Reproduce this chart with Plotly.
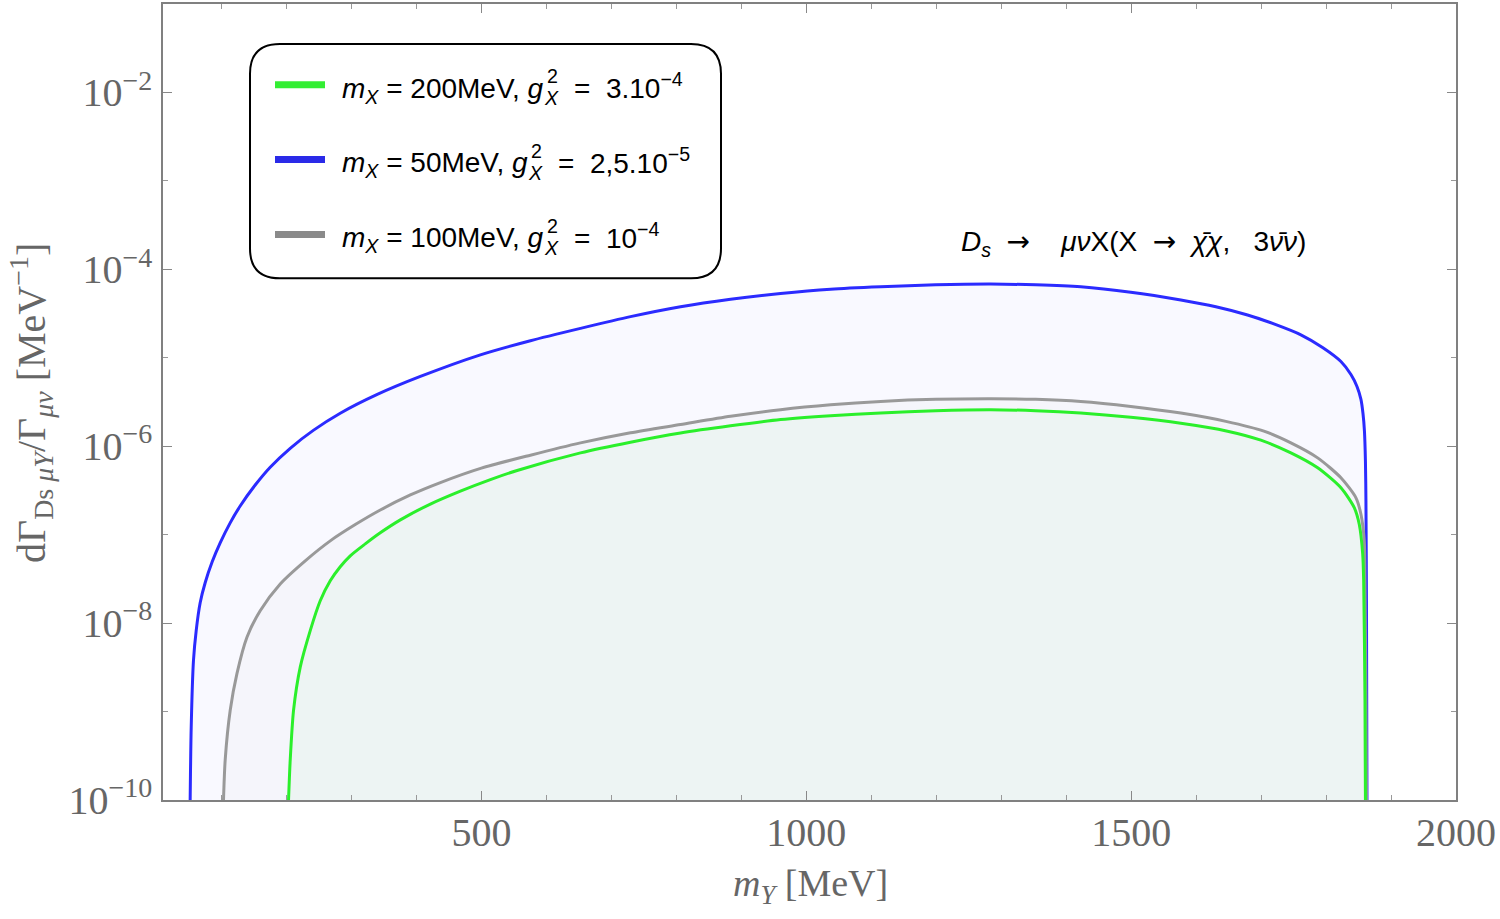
import plotly.graph_objects as go

# ---------------- data ----------------
x_blue = [51.8, 53.4, 56.9, 61.1, 67.2, 74.9, 85.7, 98.0, 113.4, 128.8, 151.9, 175.0, 205.8,
          241.3, 282.8, 339.8, 406.1, 498.5, 575.5, 652.5, 729.5, 806.5, 883.5, 960.5,
          1037.5, 1114.5, 1199.2, 1283.9, 1353.2, 1422.5, 1499.5, 1576.5, 1630.4, 1679.2,
          1722.8, 1761.3, 1795.2, 1822.9, 1838.3, 1847.6, 1853.7, 1856.8, 1859.1, 1860.6,
          1861.4, 1862.2, 1863.0]
y_blue = [1e-10, 6.6e-10, 3.78e-9, 8.23e-9, 1.70e-8, 2.86e-8, 4.93e-8, 8.07e-8, 1.36e-7,
          2.11e-7, 3.64e-7, 5.79e-7, 9.48e-7, 1.51e-6, 2.36e-6, 3.85e-6, 6.15e-6, 1.08e-5,
          1.56e-5, 2.15e-5, 2.92e-5, 3.78e-5, 4.59e-5, 5.33e-5, 5.96e-5, 6.35e-5, 6.68e-5,
          6.81e-5, 6.68e-5, 6.35e-5, 5.51e-5, 4.50e-5, 3.78e-5, 3.05e-5, 2.37e-5, 1.82e-5,
          1.30e-5, 9.08e-6, 6.47e-6, 4.74e-6, 3.39e-6, 2.36e-6, 1.48e-6, 6.78e-7, 2.40e-7,
          1.79e-8, 1e-10]

x_gray = [103.1, 105.7, 113.4, 123.8, 139.2, 159.6, 190.4, 228.9, 267.4, 305.9, 344.4, 390.7,
          436.9, 500.0, 575.5, 652.5, 729.5, 806.5, 883.5, 960.5, 1037.5, 1114.5, 1199.2,
          1283.9, 1353.2, 1422.5, 1499.5, 1576.5, 1645.8, 1704.4, 1745.9, 1787.1, 1822.9,
          1846.0, 1853.7, 1858.8, 1859.9, 1861.4, 1862.2]
y_gray = [1e-10, 2.83e-10, 1.03e-9, 2.68e-9, 6.92e-9, 1.38e-8, 2.77e-8, 5.06e-8, 8.51e-8,
          1.30e-7, 1.90e-7, 2.81e-7, 3.88e-7, 5.65e-7, 7.92e-7, 1.09e-6, 1.42e-6, 1.76e-6,
          2.18e-6, 2.59e-6, 2.94e-6, 3.21e-6, 3.39e-6, 3.44e-6, 3.39e-6, 3.21e-6, 2.82e-6,
          2.37e-6, 1.91e-6, 1.48e-6, 1.09e-6, 7.38e-7, 4.40e-7, 2.61e-7, 1.70e-7, 8.51e-8,
          3.01e-8, 1.34e-9, 1e-10]

x_green = [203.2, 205.8, 210.9, 221.2, 236.6, 252.0, 267.4, 282.8, 298.2, 321.3, 344.4, 375.3,
           421.5, 467.7, 513.9, 555.0, 652.5, 729.5, 806.5, 883.5, 960.5, 1037.5, 1114.5,
           1199.2, 1283.9, 1353.2, 1422.5, 1499.5, 1576.5, 1648.4, 1699.7, 1745.9, 1787.1,
           1822.9, 1843.4, 1851.1, 1856.4, 1857.9, 1859.9, 1860.6]
y_green = [1e-10, 2.83e-10, 1.03e-9, 3.18e-9, 8.23e-9, 1.79e-8, 3.01e-8, 4.34e-8, 5.77e-8,
           7.87e-8, 1.05e-7, 1.47e-7, 2.22e-7, 3.11e-7, 4.20e-7, 5.32e-7, 8.41e-7, 1.11e-6,
           1.41e-6, 1.70e-6, 2.00e-6, 2.21e-6, 2.37e-6, 2.52e-6, 2.59e-6, 2.52e-6, 2.37e-6,
           2.12e-6, 1.82e-6, 1.48e-6, 1.17e-6, 8.41e-7, 5.70e-7, 3.39e-7, 2.02e-7, 1.31e-7,
           6.03e-8, 3.01e-8, 1.34e-9, 1e-10]

x_ticks = [500, 1000, 1500, 2000]
x_minor = [100, 200, 300, 400, 600, 700, 800, 900, 1100, 1200, 1300, 1400, 1600, 1700, 1800, 1900]
y_ticks = [1e-10, 1e-8, 1e-6, 1e-4, 1e-2]
y_ticktext = ["10<sup>−10</sup>", "10<sup>−8</sup>", "10<sup>−6</sup>", "10<sup>−4</sup>", "10<sup>−2</sup>"]
y_minor = [1e-9, 1e-7, 1e-5, 1e-3]

# legend entries: text before g, value text after g^2_X
legend_head = ["<i>m</i><sub><i>X</i></sub> = 200MeV, <i>g</i>",
               "<i>m</i><sub><i>X</i></sub> = 50MeV, <i>g</i>",
               "<i>m</i><sub><i>X</i></sub> = 100MeV, <i>g</i>"]
legend_tail = ["=\u00a0\u00a03.10<sup>−4</sup>",
               "=\u00a0\u00a02,5.10<sup>−5</sup>",
               "=\u00a0\u00a010<sup>−4</sup>"]
legend_head_em = [6.809, 6.253, 6.809]      # advance width of head text (em, Arial metrics)
legend_colors = ["#33ee33", "#2a2ae8", "#8a8a8a"]

# ---------------- styling ----------------
W, H = 1500, 919
PL, PR, PT, PB = 163, 1456, 2, 800   # plot area in pixels


def px(p):
    return (p - PL) / (PR - PL)


def py(p):
    return (PB - p) / (PB - PT)


fig = go.Figure()
sm = 0.7
fig.add_trace(go.Scatter(x=x_blue, y=y_blue, mode="lines", fill="tozeroy",
                         fillcolor="rgba(0,0,255,0.025)",
                         line=dict(color="#2b2bff", width=3, shape="spline", smoothing=sm),
                         showlegend=False))
fig.add_trace(go.Scatter(x=x_gray, y=y_gray, mode="lines", fill="tozeroy",
                         fillcolor="rgba(128,128,128,0.03)",
                         line=dict(color="#999999", width=3, shape="spline", smoothing=sm),
                         showlegend=False))
fig.add_trace(go.Scatter(x=x_green, y=y_green, mode="lines", fill="tozeroy",
                         fillcolor="rgba(0,230,0,0.03)",
                         line=dict(color="#2bef2b", width=3, shape="spline", smoothing=sm),
                         showlegend=False))

tickfont = dict(family="Liberation Serif", size=40, color="#666666")

fig.update_xaxes(range=[10, 2000], tickvals=x_ticks, ticktext=[str(v) for v in x_ticks],
                 ticks="inside", ticklen=9, tickwidth=1, tickcolor="#888888",
                 minor=dict(tickvals=x_minor, ticks="inside", ticklen=5, tickcolor="#999999"),
                 showline=True, linecolor="#808080", linewidth=1.5, mirror="ticks",
                 showgrid=False, zeroline=False, tickfont=tickfont, ticklabelstandoff=-4)
fig.update_yaxes(type="log", range=[-10, -1.0], tickvals=y_ticks, ticktext=y_ticktext,
                 ticks="inside", ticklen=9, tickwidth=1, tickcolor="#888888",
                 minor=dict(tickvals=y_minor, ticks="inside", ticklen=5, tickcolor="#999999"),
                 showline=True, linecolor="#808080", linewidth=1.5, mirror="ticks",
                 showgrid=False, zeroline=False, tickfont=tickfont, ticklabelstandoff=1)

# legend box (rounded)
bx0, bx1, by0, by1, r = 250, 721, 42, 277, 30
rx = r / (PR - PL)
ry = r / (PB - PT)
X0, X1, Y0, Y1 = px(bx0), px(bx1), py(by1), py(by0)
path = (f"M {X0+rx},{Y0} L {X1-rx},{Y0} Q {X1},{Y0} {X1},{Y0+ry} "
        f"L {X1},{Y1-ry} Q {X1},{Y1} {X1-rx},{Y1} L {X0+rx},{Y1} "
        f"Q {X0},{Y1} {X0},{Y1-ry} L {X0},{Y0+ry} Q {X0},{Y0} {X0+rx},{Y0} Z")
shapes = [dict(type="path", xref="paper", yref="paper", path=path,
               line=dict(color="black", width=2), fillcolor="white", layer="above")]
annotations = []
FS = 28
fs_s = FS * 0.7
lfont = dict(family="Liberation Sans", size=FS, color="black")
sfont = dict(family="Liberation Sans", size=fs_s, color="black")
for i in range(3):
    yy = 83 + 75 * i          # legend line position (px)
    b = yy + 12               # text baseline (px)
    shapes.append(dict(type="line", xref="paper", yref="paper",
                       x0=px(275), x1=px(325), y0=py(yy), y1=py(yy),
                       line=dict(color=legend_colors[i], width=7), layer="above"))
    x_start = 340
    end1 = x_start + 1 + FS * legend_head_em[i] + fs_s * 0.667
    annotations.append(dict(xref="paper", yref="paper", x=px(x_start), y=py(b - 26.3),
                            xanchor="left", yanchor="top", showarrow=False,
                            text=legend_head[i], font=lfont))
    annotations.append(dict(xref="paper", yref="paper", x=px(end1 + 1), y=py(b - 32.7),
                            xanchor="left", yanchor="top", showarrow=False, borderpad=0,
                            text="2", font=sfont))
    annotations.append(dict(xref="paper", yref="paper", x=px(end1 - 2), y=py(b - 10.6),
                            xanchor="left", yanchor="top", showarrow=False, borderpad=0,
                            text="<i>X</i>", font=sfont))
    annotations.append(dict(xref="paper", yref="paper", x=px(end1 + 27), y=py(b - 30.5),
                            xanchor="left", yanchor="top", showarrow=False,
                            text=legend_tail[i], font=lfont))

arrow = "<span style=\"font-family:'DejaVu Sans'\">→</span>"
nb = "\u00a0"
annotations.append(dict(xref="paper", yref="paper", x=px(1133), y=py(242),
                        xanchor="center", yanchor="middle", showarrow=False,
                        text=(f"<i>D</i><sub><i>s</i></sub>{nb*2}{arrow}{nb*4}"
                              f"<i>μν</i>X(X{nb*2}{arrow}{nb*2}<i>χ̄χ</i>,{nb*3}3<i>ν̄ν</i>)"),
                        font=dict(family="Liberation Sans", size=28, color="black")))

titlefont = dict(family="Liberation Serif", size=38, color="#666666")
annotations.append(dict(xref="paper", yref="paper", x=px(810), y=py(886),
                        xanchor="center", yanchor="middle", showarrow=False,
                        text="<i>m</i><sub><i>Y</i></sub> [MeV]", font=titlefont))
annotations.append(dict(xref="paper", yref="paper", x=px(31), y=py(402),
                        xanchor="center", yanchor="middle", showarrow=False, textangle=-90,
                        text="dΓ<sub>Ds <i>μY</i></sub>/Γ<sub><i>μν</i></sub> [MeV<sup>−1</sup>]",
                        font=dict(family="Liberation Serif", size=40, color="#666666")))

fig.update_layout(width=W, height=H, margin=dict(l=PL, r=W - PR, t=PT, b=H - PB),
                  paper_bgcolor="white", plot_bgcolor="white",
                  shapes=shapes, annotations=annotations, showlegend=False)

fig.write_html("out.html")
